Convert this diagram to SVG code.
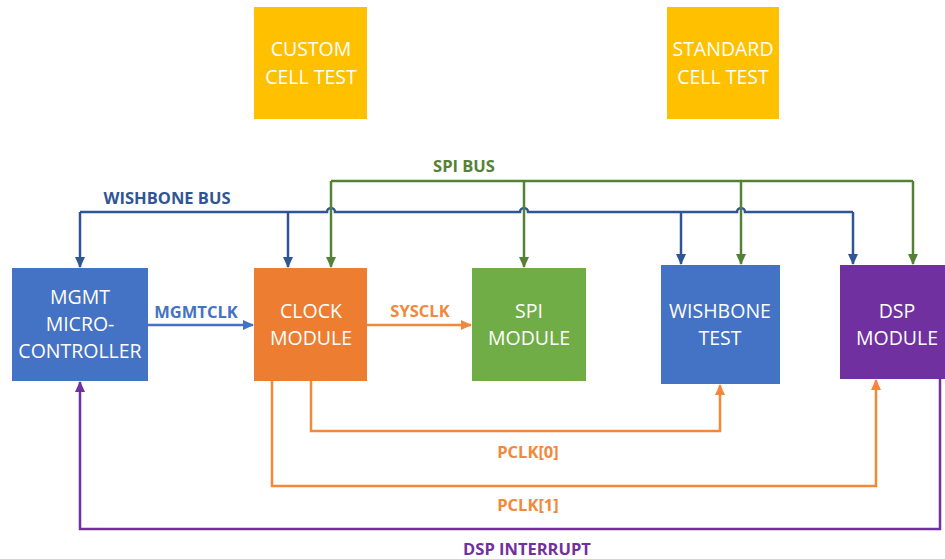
<svg xmlns="http://www.w3.org/2000/svg" width="945" height="559" viewBox="0 0 945 559">
<defs>
<style>
.box text{font-family:"Open Sans","Noto Sans",sans-serif;font-size:19.5px;fill:#ffffff;text-anchor:middle}
.lbl{font-family:"Open Sans","Noto Sans",sans-serif;font-size:16.5px;font-weight:bold;text-anchor:middle}
.c{fill:none;stroke-width:2.5;stroke-linejoin:miter}
.blue{stroke:#2F5597}
.green{stroke:#548235}
.orange{stroke:#F4883A}
.purple{stroke:#7030A0}
.lblue{stroke:#4472C4}
</style>
<marker id="aBlue" markerWidth="12" markerHeight="12" refX="10" refY="6" orient="auto" markerUnits="userSpaceOnUse"><path d="M0,1 L11,6 L0,11 Z" fill="#2F5597"/></marker>
<marker id="aGreen" markerWidth="12" markerHeight="12" refX="10" refY="6" orient="auto" markerUnits="userSpaceOnUse"><path d="M0,1 L11,6 L0,11 Z" fill="#548235"/></marker>
<marker id="aOrange" markerWidth="12" markerHeight="12" refX="10" refY="6" orient="auto" markerUnits="userSpaceOnUse"><path d="M0,1 L11,6 L0,11 Z" fill="#F4883A"/></marker>
<marker id="aPurple" markerWidth="12" markerHeight="12" refX="10" refY="6" orient="auto" markerUnits="userSpaceOnUse"><path d="M0,1 L11,6 L0,11 Z" fill="#7030A0"/></marker>
<marker id="aLBlue" markerWidth="12" markerHeight="12" refX="10" refY="6" orient="auto" markerUnits="userSpaceOnUse"><path d="M0,1 L11,6 L0,11 Z" fill="#4472C4"/></marker>
</defs>
<rect width="945" height="559" fill="#ffffff"/>

<g id="custom-cell-test" class="box">
<rect x="254" y="7" width="113" height="112" fill="#FFC000"/>
<text x="311" y="56">CUSTOM</text>
<text x="311" y="84">CELL TEST</text>
</g>
<g id="standard-cell-test" class="box">
<rect x="667" y="7" width="112" height="112" fill="#FFC000"/>
<text x="723" y="56">STANDARD</text>
<text x="723" y="84">CELL TEST</text>
</g>
<g id="mgmt" class="box">
<rect x="12" y="268" width="136" height="113" fill="#4472C4"/>
<text x="80" y="304">MGMT</text>
<text x="80" y="331">MICRO-</text>
<text x="80" y="358">CONTROLLER</text>
</g>
<g id="clock" class="box">
<rect x="254" y="268" width="113" height="113" fill="#ED7D31"/>
<text x="311" y="318">CLOCK</text>
<text x="311" y="345">MODULE</text>
</g>
<g id="spi" class="box">
<rect x="472" y="268" width="114" height="113" fill="#70AD47"/>
<text x="529" y="318">SPI</text>
<text x="529" y="345">MODULE</text>
</g>
<g id="wishbone-test" class="box">
<rect x="661" y="265" width="119" height="119" fill="#4472C4"/>
<text x="720" y="318">WISHBONE</text>
<text x="720" y="345">TEST</text>
</g>
<g id="dsp" class="box">
<rect x="840" y="265" width="106" height="114" fill="#7030A0"/>
<text x="897" y="318">DSP</text>
<text x="897" y="345">MODULE</text>
</g>

<g id="connectors">
<path class="c blue" d="M80,212 H327 a4,4 0 0 1 8,0 H520 a4,4 0 0 1 8,0 H737 a4,4 0 0 1 8,0 H853"/>
<path class="c blue" d="M80,212 V267" marker-end="url(#aBlue)"/>
<path class="c blue" d="M288,212 V267" marker-end="url(#aBlue)"/>
<path class="c blue" d="M681,212 V264" marker-end="url(#aBlue)"/>
<path class="c blue" d="M853,212 V264" marker-end="url(#aBlue)"/>
<path class="c green" d="M331,181 H913"/>
<path class="c green" d="M331,181 V267" marker-end="url(#aGreen)"/>
<path class="c green" d="M524,181 V267" marker-end="url(#aGreen)"/>
<path class="c green" d="M741,181 V264" marker-end="url(#aGreen)"/>
<path class="c green" d="M913,181 V264" marker-end="url(#aGreen)"/>
<path class="c lblue" d="M148,325 H253" marker-end="url(#aLBlue)"/>
<path class="c orange" d="M367,325 H471" marker-end="url(#aOrange)"/>
<path class="c orange" d="M311,381 V431 H720 V385" marker-end="url(#aOrange)"/>
<path class="c orange" d="M272,381 V486 H876 V380" marker-end="url(#aOrange)"/>
<path class="c purple" d="M940,379 V529 H80 V382" marker-end="url(#aPurple)"/>
</g>

<g id="labels">
<text class="lbl" x="167" y="204" fill="#2F5597">WISHBONE BUS</text>
<text class="lbl" x="464" y="172" fill="#548235">SPI BUS</text>
<text class="lbl" x="196" y="318" fill="#4472C4">MGMTCLK</text>
<text class="lbl" x="420" y="317" fill="#F4883A">SYSCLK</text>
<text class="lbl" x="528" y="458" fill="#F4883A">PCLK[0]</text>
<text class="lbl" x="528" y="511" fill="#F4883A">PCLK[1]</text>
<text class="lbl" x="527" y="555" fill="#7030A0">DSP INTERRUPT</text>
</g>
</svg>
